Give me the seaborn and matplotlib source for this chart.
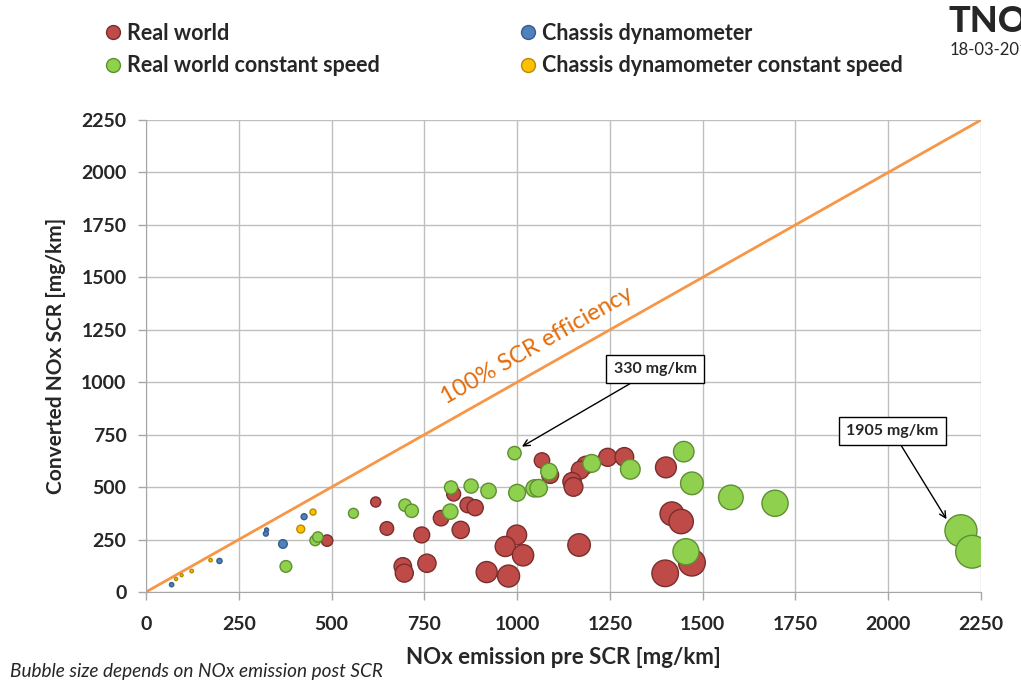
import matplotlib
matplotlib.use("Agg")
import matplotlib.pyplot as plt
from matplotlib.lines import Line2D
import pandas as pd
import seaborn as sns

# NOx emission pre SCR (x) and converted NOx (y), mg/km
real_world_x = [488, 619, 649, 743, 829, 795, 867, 887, 848, 692, 696, 757, 999, 968,
                1016, 918, 977, 1067, 1089, 1185, 1170, 1148, 1152, 1244, 1289, 1401,
                1417, 1442, 1471, 1399, 1167]
real_world_y = [245, 429, 303, 272, 467, 352, 415, 402, 296, 122, 90, 137, 272, 217,
                175, 95, 76, 627, 558, 605, 581, 526, 501, 642, 644, 594,
                373, 336, 140, 89, 224]

chassis_x = [69, 198, 325, 323, 369, 426]
chassis_y = [35, 148, 296, 278, 229, 359]

rw_const_x = [377, 456, 463, 559, 698, 716, 822, 876, 923, 820, 993, 1000, 1047, 1058,
              1086, 1201, 1305, 1449, 1471, 1576, 1455, 1695, 2196, 2226]
rw_const_y = [122, 246, 262, 375, 414, 387, 498, 505, 482, 383, 662, 473, 494, 495,
              574, 613, 585, 669, 518, 451, 192, 423, 292, 192]

cd_const_x = [81, 96, 123, 174, 417, 450]
cd_const_y = [62, 80, 100, 152, 300, 381]

series_names = ["Real world", "Chassis dynamometer",
                "Real world constant speed", "Chassis dynamometer constant speed"]
series_x = [real_world_x, chassis_x, rw_const_x, cd_const_x]
series_y = [real_world_y, chassis_y, rw_const_y, cd_const_y]
fill_colors = ["#BE4B48", "#4F81BD", "#8FD14F", "#FFC000"]
edge_colors = ["#7A2E2C", "#385D8A", "#5E8F30", "#B88A00"]

ticks = list(range(0, 2251, 250))

sns.set_style("whitegrid")
plt.rcParams['font.family'] = ['Lato', 'DejaVu Sans']

fig = plt.figure(figsize=(10.21, 6.83), dpi=100)
ax = fig.add_axes([146 / 1021, 91 / 683, 835 / 1021, 472 / 683])

# 100% efficiency reference line
ax.axline((0, 0), slope=1, color="#F79646", lw=2, zorder=2)

for name, xs, ys, fc, ec in zip(series_names, series_x, series_y, fill_colors, edge_colors):
    df = pd.DataFrame({"pre": xs, "converted": ys})
    df["post"] = df["pre"] - df["converted"]  # bubble size = NOx post SCR
    sns.scatterplot(data=df, x="pre", y="converted", size="post",
                    sizes=(0, 558), size_norm=(0, 2000), color=fc,
                    edgecolor=ec, linewidth=1, alpha=1, legend=False,
                    ax=ax, zorder=3)

ax.set_xlim(0, 2250)
ax.set_ylim(0, 2250)
ax.set_xticks(ticks)
ax.set_yticks(ticks)
ax.set_xticklabels([str(t) for t in ticks], fontsize=14, fontweight="bold")
ax.set_yticklabels([str(t) for t in ticks], fontsize=14, fontweight="bold")
ax.tick_params(axis="y", length=6, width=1, color="#A6A6A6", left=True, pad=8)
ax.tick_params(axis="x", length=6, width=1, color="#A6A6A6", bottom=True, pad=11)
ax.grid(True, color="#BFBFBF", lw=1)
for side in ["top", "right"]:
    ax.spines[side].set_visible(False)
for side in ["left", "bottom"]:
    ax.spines[side].set_color("#A6A6A6")

ax.set_xlabel("NOx emission pre SCR [mg/km]", fontsize=16, fontweight="bold", labelpad=10)
ax.set_ylabel("Converted NOx SCR [mg/km]", fontsize=15, fontweight="bold", labelpad=11)

ax.text(1054, 1177, "100% SCR efficiency", color="#E46C0A", fontsize=17,
        rotation=29.5, ha="center", va="center", rotation_mode="anchor")

box = dict(boxstyle="square,pad=0.45", fc="white", ec="black", lw=1)
arrow = dict(arrowstyle="->", color="black", lw=1, shrinkA=0, shrinkB=0)
ax.annotate("330 mg/km", xy=(1013, 693), xytext=(1372, 1063), fontsize=11.5,
            fontweight="bold", ha="center", va="center", bbox=box,
            arrowprops=arrow, zorder=5)
ax.annotate("1905 mg/km", xy=(2157, 347), xytext=(2011, 767), fontsize=11.5,
            fontweight="bold", ha="center", va="center", bbox=box,
            arrowprops=arrow, zorder=5)

handles = [Line2D([], [], ls="", marker="o", markersize=10, markerfacecolor=fc,
                  markeredgecolor=ec, markeredgewidth=1)
           for fc, ec in zip(fill_colors, edge_colors)]
# two columns: red/green left, blue/yellow right
order = [0, 2, 1, 3]
fig.legend([handles[i] for i in order], [series_names[i] for i in order],
           loc="upper left", bbox_to_anchor=(91 / 1021, 1 - 14 / 683), ncol=2,
           frameon=False, prop={"size": 15.5, "weight": "bold"},
           handletextpad=0.05, columnspacing=6.3, labelspacing=0.55,
           handlelength=1.2, borderaxespad=0)

fig.text(10 / 1021, 12 / 683, "Bubble size depends on NOx emission post SCR",
         fontsize=13.7, style="italic", ha="left", va="center")
fig.text(948 / 1021, 1 - 22 / 683, "TNO", fontsize=26, fontweight="black",
         ha="left", va="center")
fig.text(950 / 1021, 1 - 50 / 683, "18-03-2015", fontsize=12,
         ha="left", va="center")

fig.savefig("out.png", dpi=100)
